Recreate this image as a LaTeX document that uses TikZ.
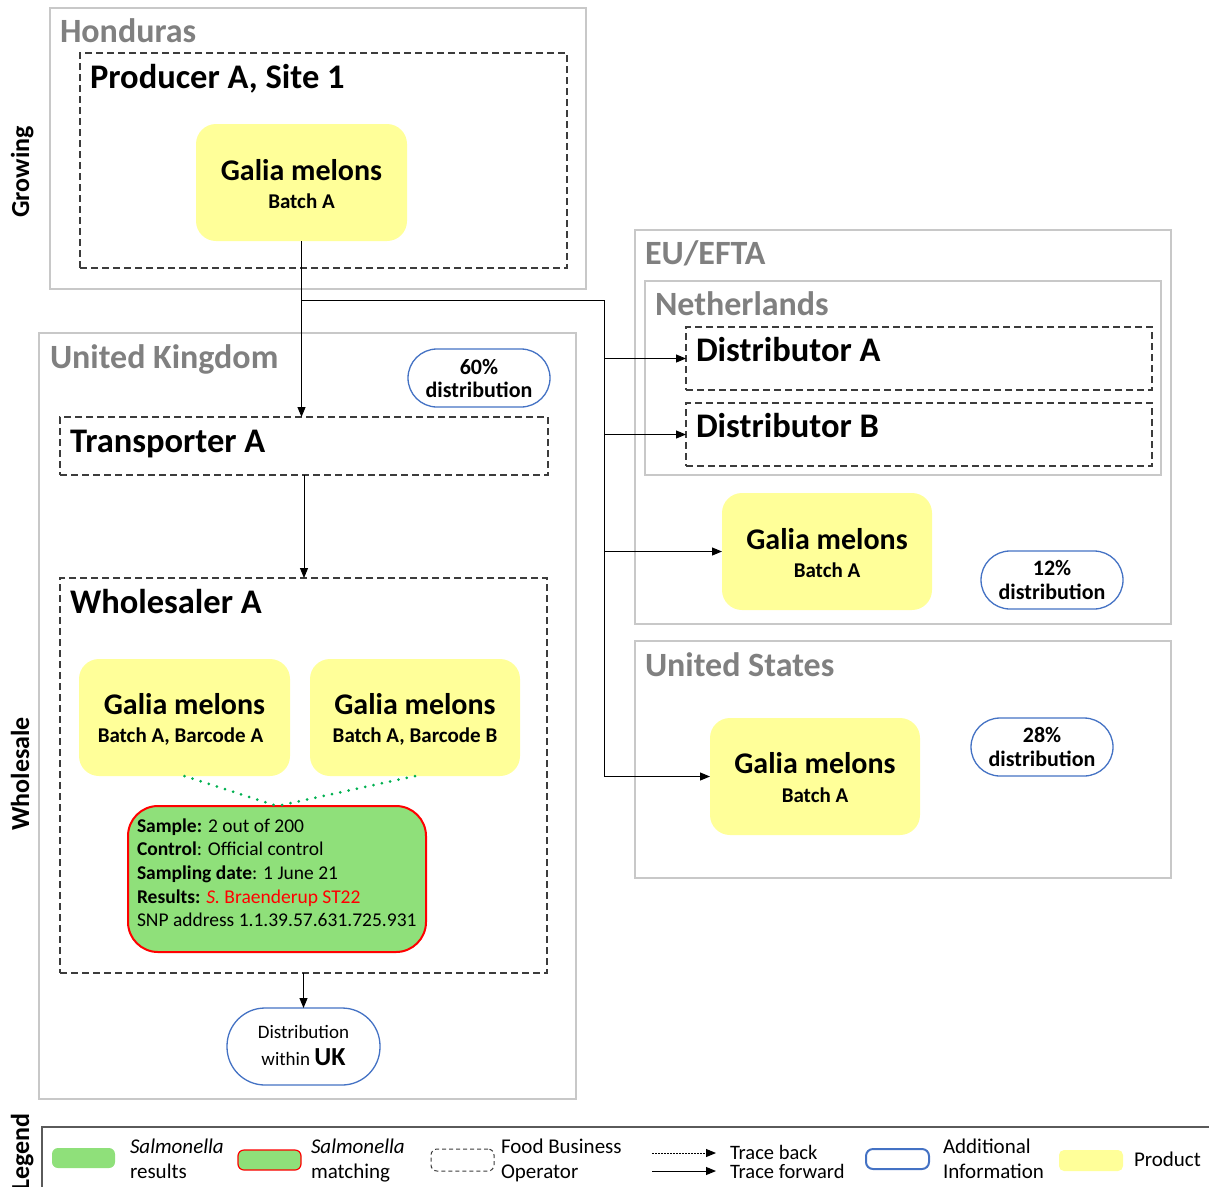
\documentclass[tikz,border=0pt]{standalone}
\usepackage{fontspec}
\setmainfont{Carlito}
\usetikzlibrary{arrows.meta,calc}
\definecolor{regc}{RGB}{200,200,200}
\definecolor{titc}{RGB}{128,128,128}
\definecolor{dashc}{RGB}{60,60,60}
\definecolor{prodc}{RGB}{255,255,153}
\definecolor{infoc}{RGB}{68,114,196}
\definecolor{salc}{RGB}{143,224,122}
\definecolor{dotc}{RGB}{0,176,80}
\definecolor{legc}{RGB}{90,90,90}
\begin{document}
\begin{tikzpicture}[x=1pt,y=-1pt,
  every node/.style={inner sep=0pt, outer sep=0pt},
  region/.style={draw=regc, line width=1.3pt, anchor=north west},
  fbo/.style={draw=dashc, line width=1.1pt, dash pattern=on 7pt off 4pt, anchor=north west},
  prodbox/.style={fill=prodc, rounded corners=20pt, anchor=north west},
  pill/.style={draw=infoc, line width=1.3pt, fill=white, anchor=north west},
  sampbox/.style={draw=red, line width=2pt, fill=salc, rounded corners=30pt, anchor=north west},
  titl/.style={font=\fontsize{34}{40}\selectfont\bfseries, text=titc, anchor=base west},
  fbot/.style={font=\fontsize{34.5}{40}\selectfont\bfseries, text=black, anchor=base west},
  gm/.style={font=\fontsize{30}{36}\selectfont\bfseries, anchor=base},
  bt/.style={font=\fontsize{21}{25}\selectfont\bfseries, anchor=base},
  pct/.style={font=\fontsize{22}{26}\selectfont\bfseries, anchor=base},
  side/.style={font=\fontsize{26}{30}\selectfont\bfseries, rotate=90, anchor=base},
  samp/.style={font=\fontsize{19.5}{23}\selectfont, anchor=base west},
  legt/.style={font=\fontsize{21}{25}\selectfont, anchor=base west},
  arr/.style={draw=black, line width=1pt, -{Triangle[length=10pt,width=8pt]}},
  dotg/.style={draw=dotc, line width=3pt, dash pattern=on 0pt off 8.5pt, line cap=round}
]
\useasboundingbox (0,0) rectangle (1209,1186);

% ---------- regions ----------
\node[region, minimum width=536pt, minimum height=281pt] (hon) at (50,8) {};
\node[region, minimum width=537pt, minimum height=766pt] (uk) at (39,333) {};
\node[region, minimum width=536pt, minimum height=394pt] (eu) at (635,230) {};
\node[region, minimum width=516pt, minimum height=194pt] (nl) at (645,281) {};
\node[region, minimum width=536pt, minimum height=237pt] (us) at (635,641) {};

\node[titl] (honT) at (60,42) {Honduras};
\node[titl] (ukT) at (50,368) {United Kingdom};
\node[titl] (euT) at (645,264) {EU/EFTA};
\node[titl] (nlT) at (655,315) {Netherlands};
\node[titl] (usT) at (645,676) {United States};

% ---------- side labels ----------
\node[side] (growT) at (29,172) {Growing};
\node[side] (wsT) at (29,774) {Wholesale};
\node[side] (legT) at (29,1152) {Legend};

% ---------- food business operators ----------
\node[fbo, minimum width=487pt, minimum height=215pt] (prod) at (80,53) {};
\node[fbo, minimum width=488pt, minimum height=58pt] (trans) at (60,417) {};
\node[fbo, minimum width=487pt, minimum height=395pt] (whole) at (60,578) {};
\node[fbo, minimum width=466pt, minimum height=63pt] (distA) at (686,327) {};
\node[fbo, minimum width=466pt, minimum height=63pt] (distB) at (686,403) {};

\node[fbot] (prodT) at (90,88) {Producer A, Site 1};
\node[fbot] (transT) at (70,452) {Transporter A};
\node[fbot] (wholeT) at (70,613) {Wholesaler A};
\node[fbot] (distAT) at (696,361) {Distributor A};
\node[fbot] (distBT) at (696,437) {Distributor B};

% ---------- products ----------
\node[prodbox, minimum width=211pt, minimum height=117pt] (gH) at (196,124) {};
\node[prodbox, minimum width=211pt, minimum height=117pt] (p1) at (79,659) {};
\node[prodbox, minimum width=210pt, minimum height=117pt] (p2) at (310,659) {};
\node[prodbox, minimum width=210pt, minimum height=117pt] (gEU) at (722,493) {};
\node[prodbox, minimum width=210pt, minimum height=117pt] (gUS) at (710,718) {};

\node[gm] (gHa) at ($(gH.north)+(0,56)$) {Galia melons};
\node[bt] (gHb) at ($(gH.north)+(0,84)$) {Batch A};
\node[gm] (p1a) at ($(p1.north)+(0,55)$) {Galia melons};
\node[bt] (p1b) at ($(p1.north)+(-4,83)$) {Batch A, Barcode A};
\node[gm] (p2a) at ($(p2.north)+(0,55)$) {Galia melons};
\node[bt] (p2b) at ($(p2.north)+(0,83)$) {Batch A, Barcode B};
\node[gm] (gEUa) at ($(gEU.north)+(0,56)$) {Galia melons};
\node[bt] (gEUb) at ($(gEU.north)+(0,84)$) {Batch A};
\node[gm] (gUSa) at ($(gUS.north)+(0,55)$) {Galia melons};
\node[bt] (gUSb) at ($(gUS.north)+(0,84)$) {Batch A};

% ---------- additional information ----------
\node[pill, rounded corners=29pt, minimum width=142pt, minimum height=58pt] (i60) at (408,349) {};
\node[pill, rounded corners=29pt, minimum width=142pt, minimum height=58pt] (i12) at (981,551) {};
\node[pill, rounded corners=29pt, minimum width=142pt, minimum height=58pt] (i28) at (971,718) {};
\node[pill, rounded corners=38pt, minimum width=153pt, minimum height=77pt] (iUK) at (227,1008) {};

\node[pct] (i60a) at ($(i60.north)+(0,25)$) {60\%};
\node[pct] (i60b) at ($(i60.north)+(0,48)$) {distribution};
\node[pct] (i12a) at ($(i12.north)+(0,24)$) {12\%};
\node[pct] (i12b) at ($(i12.north)+(0,48)$) {distribution};
\node[pct] (i28a) at ($(i28.north)+(0,24)$) {28\%};
\node[pct] (i28b) at ($(i28.north)+(0,48)$) {distribution};
\node[font=\fontsize{19}{23}\selectfont, anchor=base] (iUKa) at ($(iUK.north)+(0,30)$) {Distribution};
\node[font=\fontsize{19}{23}\selectfont, anchor=base] (iUKb) at ($(iUK.north)+(0,57)$) {within {\fontsize{26}{30}\selectfont\bfseries UK}};

% ---------- sample ----------
\node[sampbox, minimum width=298pt, minimum height=146pt] (sample) at (128,806) {};
\node[samp] (s1) at (137,832) {\textbf{Sample:} 2 out of 200};
\node[samp] (s2) at (137,855) {\textbf{Control}: Official control};
\node[samp] (s3) at (137,879) {\textbf{Sampling date}: 1 June 21};
\node[samp] (s4) at (137,903) {\textbf{Results:} \textcolor{red}{\textit{S.} Braenderup ST22}};
\node[samp] (s5) at (137,926) {SNP address 1.1.39.57.631.725.931};

\draw[dotg] (p1.south) -- (sample.north);
\draw[dotg] (p2.south) -- (sample.north);

% ---------- connectors ----------
\coordinate (br) at (301.5,300);
\coordinate (bus) at (604,300);
\draw[arr] (gH.south) -- (gH.south |- trans.north);
\draw[arr] (trans.south) -- (trans.south |- whole.north);
\draw[arr] (whole.south) -- (iUK.north);
\draw[draw=black, line width=1pt] (br) -- (bus);
\draw[arr] (bus) |- (distA.west);
\draw[arr] (bus) |- (distB.west);
\draw[arr] (bus) |- (gEU.west);
\draw[arr] (bus) |- (gUS.west);

% ---------- legend ----------
\draw[legc, line width=1.3pt] (42,1190) -- (42,1127) -- (1212,1127);

\node[fill=salc, rounded corners=6pt, minimum width=63pt, minimum height=20pt, anchor=north west] (lg1) at (52,1148) {};
\node[legt] (lg1a) at (130,1153) {\textit{Salmonella}};
\node[legt] (lg1b) at (130,1178) {results};

\node[fill=salc, draw=red, line width=1.2pt, rounded corners=6pt, minimum width=63pt, minimum height=20pt, anchor=north west] (lg2) at (238,1150) {};
\node[legt] (lg2a) at (311,1153) {\textit{Salmonella}};
\node[legt] (lg2b) at (311,1178) {matching};

\node[draw=dashc, line width=1pt, dash pattern=on 4pt off 3pt, rounded corners=6pt, minimum width=63pt, minimum height=22pt, anchor=north west] (lg3) at (431,1149) {};
\node[legt] (lg3a) at (501,1153) {Food Business};
\node[legt] (lg3b) at (501,1178) {Operator};

\coordinate (tb1) at (652,1153);
\coordinate (tb2) at (716,1153);
\coordinate (tf1) at (652,1171);
\coordinate (tf2) at (716,1171);
\draw[draw=black, line width=0.9pt, dash pattern=on 2pt off 1pt, -{Triangle[length=10pt,width=8pt]}] (tb1) -- (tb2);
\draw[arr] (tf1) -- (tf2);
\node[font=\fontsize{20.5}{24}\selectfont, anchor=base west] (lg4a) at (730,1159) {Trace back};
\node[font=\fontsize{20.5}{24}\selectfont, anchor=base west] (lg4b) at (730,1178) {Trace forward};

\node[draw=infoc, line width=2pt, rounded corners=7pt, minimum width=63pt, minimum height=20pt, anchor=north west] (lg5) at (866,1149) {};
\node[legt] (lg5a) at (943,1153) {Additional};
\node[legt] (lg5b) at (943,1178) {Information};

\node[fill=prodc, rounded corners=5pt, minimum width=64pt, minimum height=21pt, anchor=north west] (lg6) at (1059,1150) {};
\node[legt] (lg6a) at (1134,1166) {Product};
\end{tikzpicture}
\end{document}
